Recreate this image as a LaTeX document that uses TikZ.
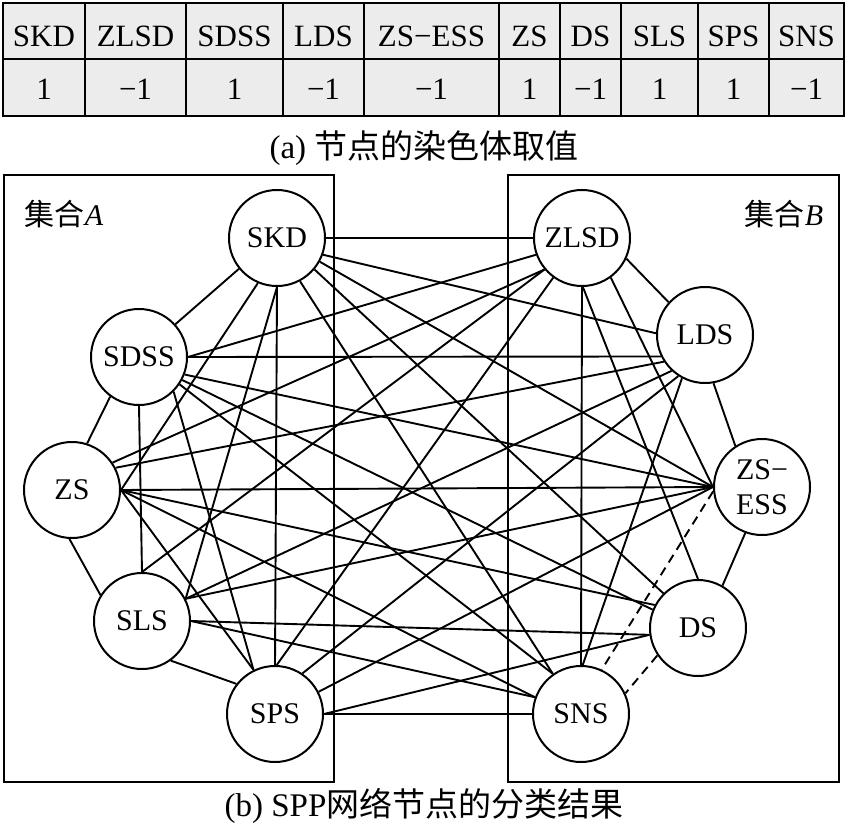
\documentclass[tikz,border=0pt]{standalone}
\usepackage{fontspec}
\setmainfont{Liberation Serif}
\newfontfamily\cjk{Noto Sans CJK SC}
\definecolor{tabgray}{HTML}{ECECEC}
\begin{document}
\begin{tikzpicture}[x=1pt,y=-1pt,
  nd/.style={circle,draw,line width=2pt,minimum size=96pt,inner sep=0pt,fill=white,
             font=\fontsize{30}{35}\selectfont,align=center},
  ed/.style={line width=1.9pt},
  dsh/.style={line width=1.9pt,dash pattern=on 9pt off 6pt},
  setbox/.style={draw,line width=2pt},
  ttxt/.style={font=\fontsize{31}{33}\selectfont,anchor=base,inner sep=0pt},
  lbl/.style={font=\fontsize{30}{32}\selectfont,inner sep=0pt},
  captxt/.style={font=\fontsize{33}{35}\selectfont,inner sep=0pt},
]
\fill[white] (0,0) rectangle (848,829);
\useasboundingbox (0,0) rectangle (848,829);

% ---------- table ----------
\fill[tabgray] (3,3) rectangle (844,116);
\draw[line width=2pt] (3,3) rectangle (844,116);
\draw[line width=2pt] (3,59) -- (844,59);
\foreach \x in {85,186,283,364,499,560,621,698,769}
  \draw[line width=2pt] (\x,3) -- (\x,116);

\node[ttxt] (h1)  at (44,47)    {SKD};
\node[ttxt] (h2)  at (135.5,47) {ZLSD};
\node[ttxt] (h3)  at (234.5,47) {SDSS};
\node[ttxt] (h4)  at (323.5,47) {LDS};
\node[ttxt] (h5)  at (431.5,47) {ZS−ESS};
\node[ttxt] (h6)  at (529.5,47) {ZS};
\node[ttxt] (h7)  at (590.5,47) {DS};
\node[ttxt] (h8)  at (659.5,47) {SLS};
\node[ttxt] (h9)  at (733.5,47) {SPS};
\node[ttxt] (h10) at (806.5,47) {SNS};

\node[ttxt] (v1)  at (44,100)    {1};
\node[ttxt] (v2)  at (135.5,100) {−1};
\node[ttxt] (v3)  at (234.5,100) {1};
\node[ttxt] (v4)  at (323.5,100) {−1};
\node[ttxt] (v5)  at (431.5,100) {−1};
\node[ttxt] (v6)  at (529.5,100) {1};
\node[ttxt] (v7)  at (590.5,100) {−1};
\node[ttxt] (v8)  at (659.5,100) {1};
\node[ttxt] (v9)  at (733.5,100) {1};
\node[ttxt] (v10) at (806.5,100) {−1};

\node[captxt] (capa) at (424,148) {(a) {\cjk 节点的染色体取值}};

% ---------- set boxes ----------
\draw[setbox] (4,175) rectangle (334,782);
\draw[setbox] (508,175) rectangle (839,782);
\node[lbl] (labA) at (64,214) {{\cjk 集合}\textit{A}};
\node[lbl] (labB) at (784,214) {{\cjk 集合}\textit{B}};

% ---------- nodes ----------
\node[nd] (skd)  at (277,238) {SKD};
\node[nd] (zlsd) at (582,238) {ZLSD};
\node[nd] (lds)  at (705,335) {LDS};
\node[nd] (zse)  at (762,487) {ZS−\\ESS};
\node[nd] (ds)   at (698,628) {DS};
\node[nd] (sns)  at (581,714) {SNS};
\node[nd] (sps)  at (275,714) {SPS};
\node[nd] (sls)  at (142,621) {SLS};
\node[nd] (zs)   at (72,490)  {ZS};
\node[nd] (sdss) at (139,357) {SDSS};

% ---------- edges: ring ----------
\draw[ed] (skd.east) -- (zlsd.west);
\draw[ed] (zlsd.-25) -- (lds.138);
\draw[ed] (lds.-80) -- (zse.123);
\draw[ed] (zse.-110) -- (ds.60);
\draw[dsh] (ds.-146) -- (sns.25);
\draw[ed] (sns.west) -- (sps.east);
\draw[ed] (sps.142) -- (sls.-54);
\draw[ed] (sls.148) -- (zs.-93);
\draw[ed] (zs.72) -- (sdss.-126);
\draw[ed] (sdss.42) -- (skd.-141);
\draw[dsh] (zse.185) -- (sns.65);
% inside A
\draw[ed] (skd.-113) -- (zs.east);
\draw[ed] (skd.south) -- (sls.27);
\draw[ed] (skd.south) -- (sps.north);
\draw[ed] (sdss.south) -- (sls.north);
\draw[ed] (sdss.-45) -- (sps.116);
\draw[ed] (zs.east) -- (sps.116);
% inside B
\draw[ed] (zlsd.-54) -- (zse.west);
\draw[ed] (zlsd.-89) -- (ds.north);
\draw[ed] (zlsd.south) -- (sns.north);
\draw[ed] (lds.-118) -- (sns.88);
% between A and B
\draw[ed] (skd.-20) -- (lds.178);
\draw[ed] (skd.-29) -- (zse.west);
\draw[ed] (skd.-40) -- (ds.135);
\draw[ed] (skd.-62) -- (sns.125);
\draw[ed] (sdss.east) -- (zlsd.-160);
\draw[ed] (sdss.east) -- (lds.206);
\draw[ed] (sdss.-21) -- (zse.west);
\draw[ed] (sdss.-28) -- (ds.158);
\draw[ed] (sdss.-34) -- (sns.125);
\draw[ed] (zs.34) -- (zlsd.-140);
\draw[ed] (zs.27) -- (lds.-147);
\draw[ed] (zs.east) -- (zse.west);
\draw[ed] (zs.east) -- (ds.152);
\draw[ed] (zs.east) -- (sns.160);
\draw[ed] (sls.north) -- (zlsd.-140);
\draw[ed] (sls.27) -- (lds.-133);
\draw[ed] (sls.27) -- (zse.west);
\draw[ed] (sls.east) -- (ds.-172);
\draw[ed] (sls.east) -- (sns.160);
\draw[ed] (sps.88) -- (zlsd.-126);
\draw[ed] (sps.56) -- (lds.-123);
\draw[ed] (sps.27) -- (zse.west);
\draw[ed] (sps.east) -- (ds.-172);

\node[captxt] (capb) at (424,806) {(b) SPP{\cjk 网络节点的分类结果}};
\end{tikzpicture}
\end{document}
